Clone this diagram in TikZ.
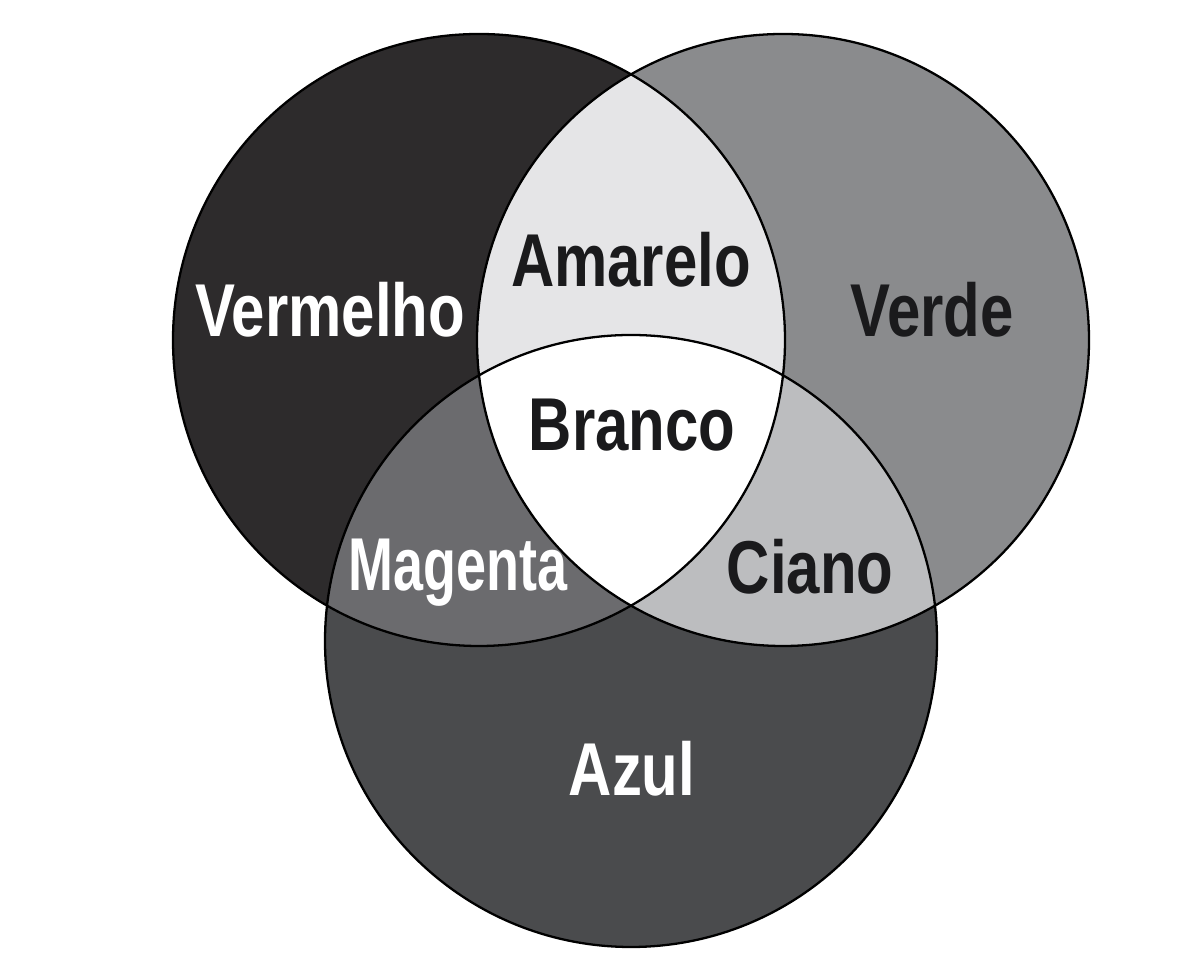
\documentclass[tikz,border=0pt]{standalone}
\usepackage{fontspec}
\usepackage{graphicx}
\newfontfamily\lblfont{Liberation Sans}[FakeStretch=0.8]
\definecolor{cverm}{HTML}{2D2B2C}
\definecolor{cverde}{HTML}{8A8B8D}
\definecolor{cazul}{HTML}{4A4B4D}
\definecolor{camar}{HTML}{E5E5E7}
\definecolor{cmag}{HTML}{6B6B6E}
\definecolor{cciano}{HTML}{BCBDBF}
\definecolor{cdark}{HTML}{1A1A1C}
\begin{document}
\begin{tikzpicture}[x=0.01cm,y=-0.01cm,
  lbl/.style={anchor=base,inner sep=0pt,font=\lblfont\bfseries\fontsize{21.3pt}{24pt}\selectfont},
  lightlbl/.style={lbl,text=white},
  darklbl/.style={lbl,text=cdark},
  outline/.style={draw=black,line width=0.65pt}]
\useasboundingbox (0,0) rectangle (1200,974);
\fill[white] (0,0) rectangle (1200,974);
\def\R{306}
\coordinate (cL) at (479,340);
\coordinate (cR) at (783,340);
\coordinate (cB) at (631,641);
% base fills
\fill[cverm] (cL) circle[radius=\R];
\fill[cverde] (cR) circle[radius=\R];
\fill[cazul] (cB) circle[radius=\R];
% pairwise intersections
\begin{scope}
  \clip (cL) circle[radius=\R];
  \fill[camar] (cR) circle[radius=\R];
  \fill[cmag] (cB) circle[radius=\R];
\end{scope}
\begin{scope}
  \clip (cR) circle[radius=\R];
  \fill[cciano] (cB) circle[radius=\R];
\end{scope}
\begin{scope}
  \clip (cL) circle[radius=\R];
  \clip (cR) circle[radius=\R];
  \fill[white] (cB) circle[radius=\R];
\end{scope}
% outlines
\draw[outline] (cL) circle[radius=\R];
\draw[outline] (cR) circle[radius=\R];
\draw[outline] (cB) circle[radius=\R];
% labels
\node[lightlbl] (verm) at (330,337) {Vermelho};
\node[darklbl] (amar) at (631,287) {Amarelo};
\node[darklbl] (verde) at (932,337) {Verde};
\node[darklbl] (branco) at (632,451) {Branco};
\node[lightlbl] (mag) at (458,591) {\scalebox{0.9}[1]{Magenta}};
\node[darklbl] (ciano) at (810,594) {Ciano};
\node[lightlbl] (azul) at (632,796) {Azul};
\end{tikzpicture}
\end{document}
